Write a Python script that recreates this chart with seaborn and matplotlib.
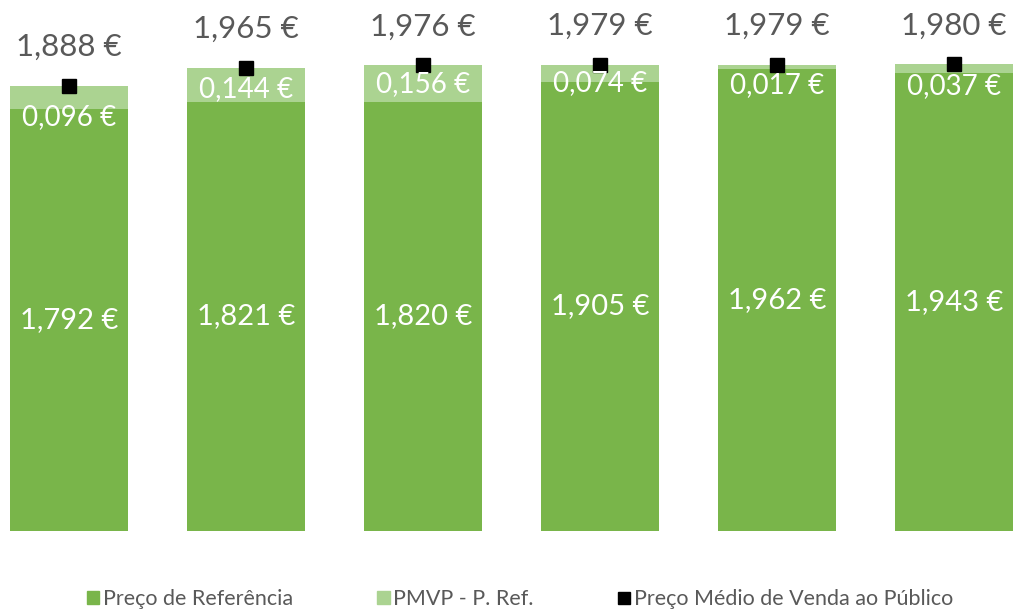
import numpy as np
import matplotlib
matplotlib.use("Agg")
import matplotlib.pyplot as plt
import seaborn as sns
from matplotlib.patches import Patch
from matplotlib.lines import Line2D

# ====================== dados ======================
categorias = ["P1", "P2", "P3", "P4", "P5", "P6"]
preco_ref = [1.792, 1.821, 1.820, 1.905, 1.962, 1.943]
diferenca = [0.096, 0.144, 0.156, 0.074, 0.017, 0.037]
pmvp = [1.888, 1.965, 1.976, 1.979, 1.979, 1.980]

# deslocamento (px) do rótulo da diferença abaixo do topo
desloc_dif = [31, 21, 19, 18, 20, 22]

verde = "#79B54A"
verde_claro = "#ABD391"
cinza = "#595959"

def fmt(v):
    return f"{v:.3f}".replace(".", ",") + " €"

sns.set_theme(style="white")
plt.rcParams['font.family'] = ['Lato', 'DejaVu Sans']

fig = plt.figure(figsize=(10.13, 6.12), dpi=100)
ax = fig.add_axes([0, 81 / 612, 1, 531 / 612])

# barra total (clara) e base (escura) por cima
sns.barplot(x=categorias, y=pmvp, color=verde_claro, width=0.667,
            saturation=1, ax=ax, linewidth=0)
sns.barplot(x=categorias, y=preco_ref, color=verde, width=0.667,
            saturation=1, ax=ax, linewidth=0)

px = 531 / 2.253  # px por unidade
for i, (b, d, t) in enumerate(zip(preco_ref, diferenca, pmvp)):
    ax.text(i, b / 2, fmt(b), ha="center", va="center", color="white",
            fontsize=21)
    ax.text(i, t - desloc_dif[i] / px, fmt(d), ha="center", va="center",
            color="white", fontsize=20)
    ax.text(i, t + 39 / px, fmt(t), ha="center", va="center", color=cinza,
            fontsize=22.5)

ax.plot(range(len(categorias)), pmvp, ls="none", marker="s", ms=10,
        color="black")

ax.set_xlim(-0.39, 5.333)
ax.set_ylim(0, 2.253)
ax.axis("off")

handles = [
    Patch(color=verde, label="Preço de Referência"),
    Patch(color=verde_claro, label="PMVP - P. Ref."),
    Line2D([], [], ls="none", marker="s", ms=9, color="black",
           label="Preço Médio de Venda ao Público"),
]
fig.legend(handles=handles, loc="center", bbox_to_anchor=(0.513, 1 - 599 / 612),
           ncol=3, frameon=False, fontsize=15.5, labelcolor=cinza,
           handlelength=0.6, handleheight=0.6, handletextpad=0.15,
           columnspacing=3.9, borderpad=0.2)

fig.savefig("out.png", dpi=100)
